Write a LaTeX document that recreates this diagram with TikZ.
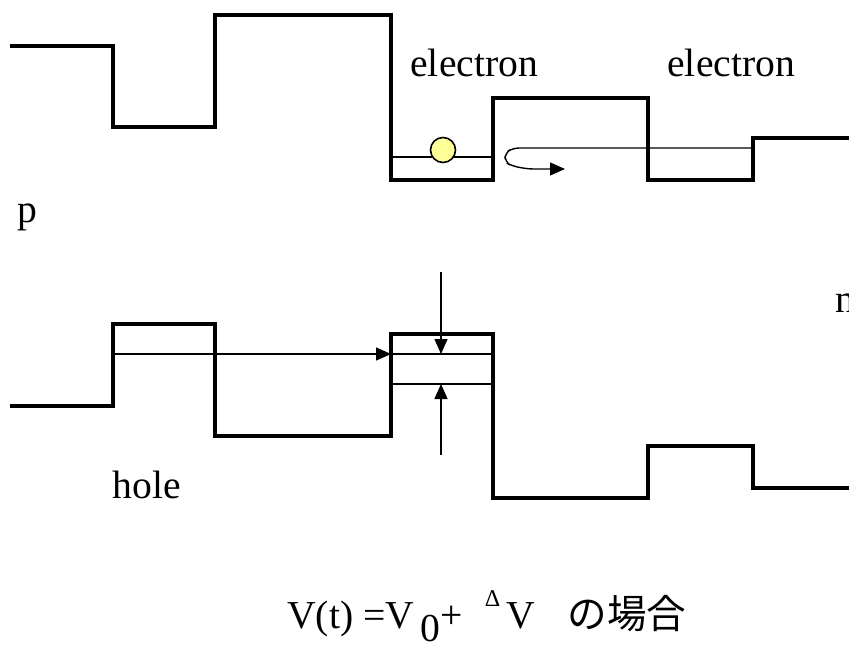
\documentclass[tikz,border=0pt]{standalone}
\usepackage{fontspec}
\setmainfont{Liberation Serif}
\newfontfamily\cjk{Noto Sans CJK JP}
\usetikzlibrary{arrows.meta}
\tikzset{%
  band/.style={line width=2pt, line join=miter},
  level/.style={line width=0.7pt},
  ->-/.style={level, -{Triangle[length=7.5pt, width=6.5pt]}},
  lbl/.style={inner sep=0pt, anchor=base west, font=\fontsize{19.8}{23}\selectfont},
}

\begin{document}
\begin{tikzpicture}[x=0.5pt, y=-0.5pt]
    \useasboundingbox (0,0) rectangle (849,647);

    % conduction band
    \draw[band] (10,46) -- (113,46) -- (113,127) -- (215,127) -- (215,15)
        -- (391,15) -- (391,180) -- (493,180) -- (493,98) -- (648,98)
        -- (648,180) -- (753,180) -- (753,138) -- (849,138);

    % valence band
    \draw[band] (10,406) -- (113,406) -- (113,324) -- (215,324) -- (215,436)
        -- (391,436) -- (391,334) -- (493,334) -- (493,498) -- (648,498)
        -- (648,446) -- (753,446) -- (753,488) -- (849,488);

    % electron levels
    \coordinate (Ew1) at (391,157);
    \coordinate (Ew2) at (493,157);
    \draw[level] (Ew1) -- (Ew2);
    \coordinate (R1) at (753,148);
    \coordinate (R2) at (513,148);
    \coordinate (R3) at (565,169);
    \draw[->-, rounded corners=3pt] (R1) -- (R2) -- (505,153) -- (505,162)
        -- (512,166) -- (528,169) -- (R3);
    \node[circle, draw, line width=0.8pt, fill={rgb,255:red,255;green,255;blue,153},
          minimum size=12.5pt, inner sep=0pt] (el) at (443,150) {};

    % hole levels
    \coordinate (H1) at (113,354);
    \coordinate (H2) at (391,354);
    \draw[->-] (H1) -- (H2);
    \coordinate (Q1) at (391,354);
    \coordinate (Q2) at (493,354);
    \coordinate (Q3) at (391,384);
    \coordinate (Q4) at (493,384);
    \draw[level] (Q1) -- (Q2);
    \draw[level] (Q3) -- (Q4);

    % width arrows
    \coordinate (T1) at (441,272);
    \coordinate (T2) at (441,354);
    \coordinate (B1) at (441,455);
    \coordinate (B2) at (441,384);
    \draw[->-] (T1) -- (T2);
    \draw[->-] (B1) -- (B2);

    % labels
    \node[lbl] (e1) at (410,76) {electron};
    \node[lbl] (e2) at (667,76) {electron};
    \node[lbl] (p)  at (17,222) {p};
    \node[lbl] (n)  at (835,312) {n};
    \node[lbl] (h)  at (112,498) {hole};
    \node[lbl] (eq) at (287,628) {V(t) =V\,\raisebox{-0.33em}{0}+\;\;\raisebox{0.55em}{\fontsize{12}{12}\selectfont Δ}\,V\;\; {\cjk の場合}};
\end{tikzpicture}
\end{document}
